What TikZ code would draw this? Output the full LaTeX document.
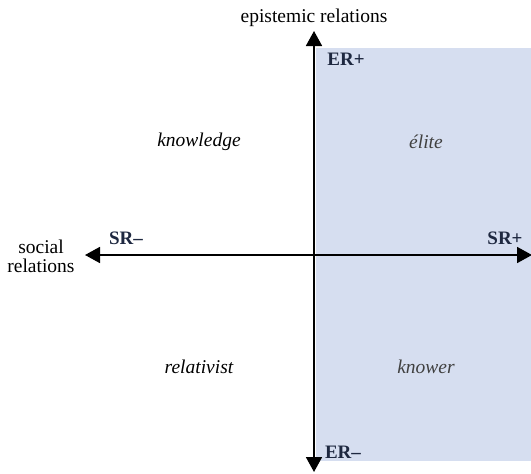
\documentclass[tikz,border=0pt]{standalone}
\usepackage{fontspec}
\setmainfont{Liberation Serif}
\usetikzlibrary{arrows.meta}
\definecolor{quadfill}{HTML}{D6DEF0}
\definecolor{poleink}{HTML}{1E2840}
\begin{document}
\begin{tikzpicture}[x=1pt,y=-1pt,
  axis/.style={line width=1.8pt,-{Triangle[width=16pt,length=15pt]}},
  pole/.style={font=\fontsize{19}{19}\selectfont\bfseries,text=poleink,inner sep=0pt},
  code/.style={font=\fontsize{19.5}{20}\selectfont\itshape,inner sep=0pt},
  axname/.style={font=\fontsize{19.5}{19}\selectfont,inner sep=0pt,align=center}]
  \useasboundingbox (0,0) rectangle (531,474);
  % shaded half-plane of high social relations
  \fill[quadfill] (316,48) rectangle (531,461);
  % axes
  \coordinate (ertop) at (314,31);
  \coordinate (erbot) at (314,472);
  \coordinate (srleft) at (85,255);
  \coordinate (srright) at (532,255);
  \coordinate (origin) at (314,255);
  \draw[axis] (origin) -- (ertop);
  \draw[axis] (origin) -- (erbot);
  \draw[axis] (origin) -- (srleft);
  \draw[axis] (origin) -- (srright);
  % axis names
  \node[axname] (ername) at (314,18) {epistemic relations};
  \node[axname] (srname) at (41,256) {social\\relations};
  % poles
  \node[pole] (erplus) at (346,59) {ER+};
  \node[pole] (erminus) at (343,452) {ER–};
  \node[pole] (srminus) at (126,238) {SR–};
  \node[pole] (srplus) at (505,238) {SR+};
  % quadrant codes
  \node[code] (knowledge) at (199,142) {knowledge};
  \node[code,text=black!75] (elite) at (426,142) {élite};
  \node[code] (relativist) at (199,367) {relativist};
  \node[code,text=black!75] (knower) at (426,367) {knower};
\end{tikzpicture}
\end{document}
